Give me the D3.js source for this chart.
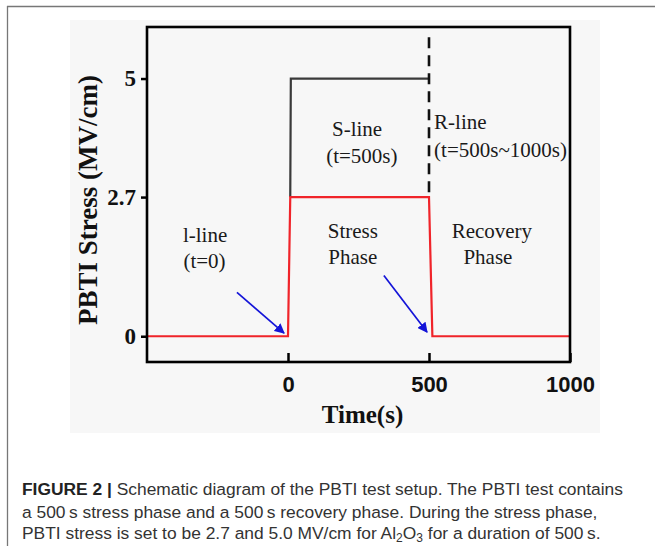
<!DOCTYPE html>
<html>
<head>
<meta charset="utf-8">
<script src="https://cdn.jsdelivr.net/npm/d3@7"></script>
<style>
  body { margin: 0; background: #fff; }
  svg { display: block; }
</style>
</head>
<body>
<script>
// Chart values
const xTicks = [0, 500, 1000];
const yTicks = [0, 2.7, 5];

// red line: 2.7 MV/cm stress
const redTime = [-500, 0, 8, 500, 512, 1000];
const redStress = [0, 0, 2.7, 2.7, 0, 0];

// dark line: 5 MV/cm stress (S-line)
const sTime = [8, 10, 500];
const sStress = [2.7, 5, 5];

// dashed R-line marker at t=500
const rTime = [500, 500];
const rStress = [5.8, 2.7];

// blue arrows (from -> to)
const arrowFromT = [-181, 340];
const arrowFromV = [0.85, 1.18];
const arrowToT = [-14, 493];
const arrowToV = [0.06, 0.08];

// annotation labels
const labelText = ["l-line", "(t=0)", "S-line", "(t=500s)", "R-line", "(t=500s~1000s)", "Stress", "Phase", "Recovery", "Phase"];
const labelT = [-294, -296, 245, 262, 518, 518, 230, 230, 723, 709];
const labelV = [1.82, 1.32, 3.88, 3.37, 4.03, 3.47, 1.90, 1.40, 1.90, 1.40];
const labelAnchor = ["middle", "middle", "middle", "middle", "start", "start", "middle", "middle", "middle", "middle"];

const W = 655, H = 546;
const serif = "'Liberation Serif', 'Times New Roman', serif";
const sans = "'Liberation Sans', Arial, sans-serif";

const svg = d3.select("body").append("svg")
    .attr("width", W)
    .attr("height", H);

// page frame
svg.append("line").attr("x1", 7).attr("y1", 6.5).attr("x2", W).attr("y2", 6.5)
    .attr("stroke", "#777").attr("stroke-width", 1.3);
svg.append("line").attr("x1", 7.5).attr("y1", 6).attr("x2", 7.5).attr("y2", H)
    .attr("stroke", "#777").attr("stroke-width", 1.3);

// faint figure background
svg.append("rect").attr("x", 70).attr("y", 20).attr("width", 530).attr("height", 413)
    .attr("fill", "#f7f7f7");

const x = d3.scaleLinear().domain([-500, 1000]).range([147, 570]);
const y = d3.scaleLinear().domain([-0.5, 6]).range([362, 27]);

// x axis, ticks pointing inward
const xAxis = svg.append("g")
    .attr("transform", "translate(0," + y(-0.5) + ")")
    .call(d3.axisBottom(x).tickValues(xTicks).tickFormat(d3.format("d"))
        .tickSizeInner(-9).tickSizeOuter(0).tickPadding(14));
xAxis.select(".domain").remove();
xAxis.selectAll("line").attr("stroke", "#000").attr("stroke-width", 2.5);
xAxis.selectAll("text")
    .attr("font-family", sans).attr("font-weight", "bold")
    .attr("font-size", 22).attr("fill", "#111");

// y axis, ticks pointing outward
const yAxis = svg.append("g")
    .attr("transform", "translate(" + x(-500) + ",0)")
    .call(d3.axisLeft(y).tickValues(yTicks).tickFormat(d => d)
        .tickSizeInner(6).tickSizeOuter(0).tickPadding(5));
yAxis.select(".domain").remove();
yAxis.selectAll("line").attr("stroke", "#000").attr("stroke-width", 2.5);
yAxis.selectAll("text")
    .attr("font-family", serif).attr("font-weight", "bold")
    .attr("font-size", 23).attr("fill", "#111");

const line = d3.line().x(d => x(d[0])).y(d => y(d[1]));

// S-line (dark gray)
svg.append("path")
    .datum(d3.zip(sTime, sStress))
    .attr("d", line)
    .attr("fill", "none")
    .attr("stroke", "#3a3a3a")
    .attr("stroke-width", 2.2);

// dashed R-line marker
svg.append("path")
    .datum(d3.zip(rTime, rStress))
    .attr("d", line)
    .attr("fill", "none")
    .attr("stroke", "#111")
    .attr("stroke-width", 2.6)
    .attr("stroke-dasharray", "11,7");

// red stress line
svg.append("path")
    .datum(d3.zip(redTime, redStress))
    .attr("d", line)
    .attr("fill", "none")
    .attr("stroke", "#f0242a")
    .attr("stroke-width", 2.2);

// plot frame
svg.append("rect")
    .attr("x", x(-500)).attr("y", y(6))
    .attr("width", x(1000) - x(-500))
    .attr("height", y(-0.5) - y(6))
    .attr("fill", "none")
    .attr("stroke", "#000")
    .attr("stroke-width", 2.6);

// arrows
svg.append("defs").append("marker")
    .attr("id", "head")
    .attr("viewBox", "0 0 10 10")
    .attr("refX", 9).attr("refY", 5)
    .attr("markerWidth", 6).attr("markerHeight", 6)
    .attr("markerUnits", "strokeWidth")
    .attr("orient", "auto")
    .append("path")
    .attr("d", "M0,0 L10,5 L0,10 Z")
    .attr("fill", "#1414d8");

svg.selectAll(".arrow")
    .data(arrowFromT.map((t, i) => i))
    .enter().append("line")
    .attr("class", "arrow")
    .attr("x1", i => x(arrowFromT[i]))
    .attr("y1", i => y(arrowFromV[i]))
    .attr("x2", i => x(arrowToT[i]))
    .attr("y2", i => y(arrowToV[i]))
    .attr("stroke", "#1414d8")
    .attr("stroke-width", 1.7)
    .attr("marker-end", "url(#head)");

// annotation text
svg.selectAll(".note")
    .data(labelText)
    .enter().append("text")
    .attr("class", "note")
    .attr("x", (d, i) => x(labelT[i]))
    .attr("y", (d, i) => y(labelV[i]))
    .attr("text-anchor", (d, i) => labelAnchor[i])
    .attr("font-family", serif)
    .attr("font-size", 21)
    .attr("fill", "#1a1a1a")
    .text(d => d);

// axis titles
svg.append("text")
    .attr("x", (x(-500) + x(1000)) / 2 + 4)
    .attr("y", 423)
    .attr("text-anchor", "middle")
    .attr("font-family", serif).attr("font-weight", "bold")
    .attr("font-size", 25).attr("fill", "#111")
    .text("Time(s)");

svg.append("text")
    .attr("transform", "translate(97,200) rotate(-90)")
    .attr("text-anchor", "middle")
    .attr("font-family", serif).attr("font-weight", "bold")
    .attr("font-size", 27).attr("fill", "#111")
    .text("PBTI Stress (MV/cm)");

// caption
const cap = svg.append("g")
    .attr("font-family", sans)
    .attr("font-size", 17.4)
    .attr("fill", "#333");

const l1 = cap.append("text").attr("x", 22).attr("y", 495);
l1.append("tspan").attr("font-weight", "bold").attr("fill", "#222").text("FIGURE 2 | ");
l1.append("tspan").text("Schematic diagram of the PBTI test setup. The PBTI test contains");

cap.append("text").attr("x", 22).attr("y", 518)
    .text("a 500\u2009s stress phase and a 500\u2009s recovery phase. During the stress phase,");

const l3 = cap.append("text").attr("x", 22).attr("y", 539);
l3.append("tspan").text("PBTI stress is set to be 2.7 and 5.0 MV/cm for Al");
l3.append("tspan").attr("font-size", 12).attr("dy", 3).text("2");
l3.append("tspan").attr("dy", -3).text("O");
l3.append("tspan").attr("font-size", 12).attr("dy", 3).text("3");
l3.append("tspan").attr("dy", -3).text(" for a duration of 500\u2009s.");
</script>
</body>
</html>
